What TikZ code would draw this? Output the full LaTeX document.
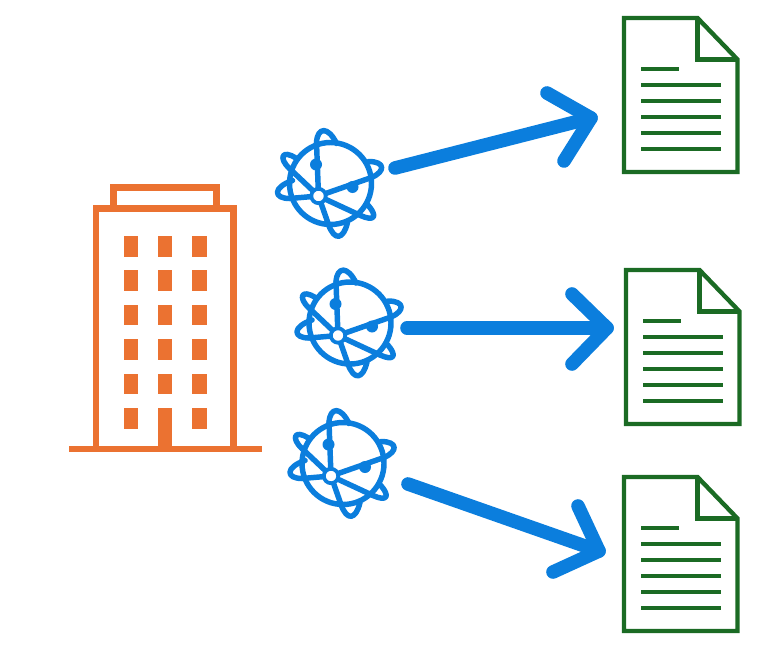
\documentclass[tikz,border=0pt]{standalone}
\definecolor{towerorange}{HTML}{EB7231}
\definecolor{docgreen}{HTML}{1B6B24}
\definecolor{linkblue}{HTML}{0B7EDD}
\tikzset{
    tower/.style={draw=towerorange, line width=5.2pt},
    window/.style={fill=towerorange},
    page/.style={draw=docgreen, line width=3.3pt, line join=miter},
    textline/.style={draw=docgreen, line width=3pt},
    orbit/.style={draw=linkblue, line width=4.1pt, line cap=round, line join=round},
    link/.style={draw=linkblue, line width=10.2pt, line cap=round, line join=round},
    globe/.pic={
        \draw[orbit] (0,0) circle (41);
        \draw[orbit] (-12,12.5) -- (-14,-41) (-12,12.5) -- (-41,15) (-12,12.5) -- (-41,-15);
        \draw[orbit] (-12,12.5) -- (-2,41) (-12,12.5) -- (41,-6) (-12,12.5) -- (30,32);
        \draw[orbit] (-14,-41) .. controls (-13,-57) and (-2,-57) .. (6,-40);
        \draw[orbit] (-2,41) .. controls (4,58) and (13,56) .. (17,39);
        \draw[orbit] (38,-22) .. controls (55,-22) and (55,-12) .. (41,-6);
        \draw[orbit] (-38,-3) .. controls (-58,4) and (-57,15) .. (-41,15);
        \draw[orbit] (-34,-25) .. controls (-49,-35) and (-52,-25) .. (-41,-15);
        \draw[orbit] (36,20) .. controls (49,34) and (43,38) .. (30,32);
        \fill[linkblue] (-14.5,-19) circle (6) (22,3.5) circle (6);
        \draw[orbit, line width=2.8pt, fill=white] (-12,12.5) circle (7.2);
    },
    docicon/.pic={
        \draw[page] (0,0) -- (73.5,0) -- (113.5,41.5) -- (113.5,154) -- (0,154) -- cycle;
        \draw[page] (73.5,0) -- (73.5,41.5) -- (113.5,41.5);
        \draw[textline] (17,51) -- (55,51);
        \foreach \ly in {67,83,98.5,114.5,130.5}
            \draw[textline] (17,\ly) -- (96.7,\ly);
    }
}
\begin{document}
\begin{tikzpicture}[x=0.75pt, y=-0.75pt]
    \useasboundingbox (0,0) rectangle (778,667);
    % building
    \draw[tower] (113.5,205) -- (113.5,187.5) -- (216.5,187.5) -- (216.5,205);
    \draw[tower] (96,446) -- (96,208.5) -- (233.5,208.5) -- (233.5,446);
    \fill[window] (68.5,445.7) rectangle (261.7,452.3);
    \foreach \wy in {0,1,2,3,4,5} {
        \fill[window] (123.5,236+34.4*\wy) rectangle +(14.5,20.5);
        \fill[window] (192,236+34.4*\wy) rectangle +(14.5,20.5);
    }
    \foreach \wy in {0,1,2,3,4}
        \fill[window] (158,236+34.4*\wy) rectangle +(14,20.5);
    \fill[window] (158,407.7) rectangle (172,446);
    % globes
    \pic at (330.5,183.5) {globe};
    \pic at (350,323) {globe};
    \pic at (343,463.5) {globe};
    % documents
    \pic at (624,18) {docicon};
    \pic at (626,270) {docicon};
    \pic at (624,477) {docicon};
    % arrows
    \coordinate (startA) at (395,168); \coordinate (tipA) at (591,118);
    \coordinate (startB) at (407,328); \coordinate (tipB) at (607,328);
    \coordinate (startC) at (408,484); \coordinate (tipC) at (599,551);
    \draw[link] (startA) -- (tipA);
    \draw[link] (547,93) -- (tipA) -- (564,161);
    \draw[link] (startB) -- (tipB);
    \draw[link] (572,294) -- (tipB) -- (572,364);
    \draw[link] (startC) -- (tipC);
    \draw[link] (578,506) -- (tipC) -- (553,572);
\end{tikzpicture}
\end{document}
